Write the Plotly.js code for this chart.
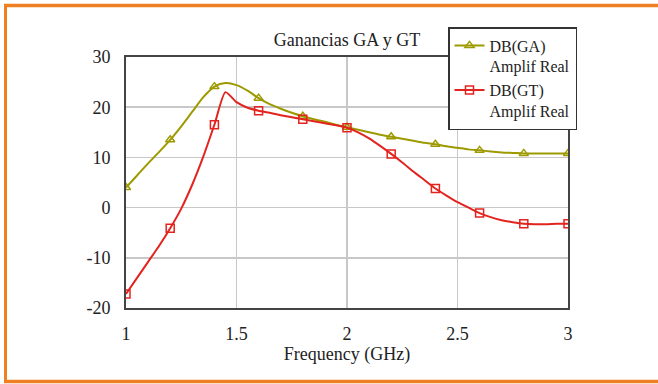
<!DOCTYPE html>
<html>
<head>
<meta charset="utf-8">
<script src="https://cdn.plot.ly/plotly-3.0.1.min.js"></script>
<style>
html,body{margin:0;padding:0;background:#fff;}
#chart{width:658px;height:384px;}
</style>
</head>
<body>
<div id="chart"></div>
<script>
// Frequency grid (GHz) for the smooth curves
var freq = [1.00,1.05,1.10,1.15,1.20,1.25,1.30,1.35,1.40,1.45,1.50,1.55,1.60,1.65,1.70,1.75,1.80,1.85,1.90,1.95,2.00,
            2.05,2.10,2.15,2.20,2.25,2.30,2.35,2.40,2.45,2.50,2.55,2.60,2.65,2.70,2.75,2.80,2.85,2.90,2.95,3.00];
// DB(GA) Amplif Real
var gaDb = [4.0,6.4,8.8,11.1,13.5,16.2,19.1,22.0,24.1,24.8,24.4,23.3,21.8,20.6,19.7,18.9,18.2,17.6,17.1,16.5,16.0,
            15.5,15.0,14.5,14.1,13.7,13.3,12.9,12.6,12.2,11.9,11.6,11.4,11.2,11.0,10.9,10.8,10.8,10.8,10.8,10.8];
// DB(GT) Amplif Real
var gtDb = [-17.2,-14.0,-10.8,-7.6,-4.1,-0.2,4.6,10.2,16.5,23.0,21.0,19.9,19.3,18.9,18.4,18.0,17.6,17.2,16.8,16.4,15.9,
            15.0,13.8,12.3,10.7,9.0,7.2,5.5,3.8,2.4,1.1,0.0,-1.1,-1.9,-2.5,-2.9,-3.2,-3.3,-3.3,-3.2,-3.2];
var xTicks = [1, 1.5, 2, 2.5, 3];
var xTickText = ['1', '1.5', '2', '2.5', '3'];
var yTicks = [-20, -10, 0, 10, 20, 30];
var yTickText = ['-20', '-10', '0', '10', '20', '30'];
var seriesNames = ['DB(GA)<br>Amplif Real', 'DB(GT)<br>Amplif Real'];

// marker points every 0.2 GHz
var mIdx = [];
freq.forEach(function(f, i){ if (i % 4 === 0) mIdx.push(i); });
function pick(arr){ return mIdx.map(function(i){ return arr[i]; }); }

var gaColor = '#9D9A00';
var gtColor = '#E3231E';

var traces = [
  {x: freq, y: gaDb, mode: 'lines', line: {color: gaColor, width: 2, shape: 'spline', smoothing: 0.8},
   showlegend: false, hoverinfo: 'skip'},
  {x: pick(freq), y: pick(gaDb), mode: 'markers',
   marker: {symbol: 'triangle-up-open', size: 8, color: gaColor, line: {width: 1.5, color: gaColor}},
   showlegend: false},
  {x: freq, y: gtDb, mode: 'lines', line: {color: gtColor, width: 2, shape: 'spline', smoothing: 0.6},
   showlegend: false, hoverinfo: 'skip'},
  {x: pick(freq), y: pick(gtDb), mode: 'markers',
   marker: {symbol: 'square-open', size: 8, color: gtColor, line: {width: 1.5, color: gtColor}},
   showlegend: false},
  // legend entries
  {x: [null], y: [null], mode: 'lines+markers', name: seriesNames[0],
   line: {color: gaColor, width: 2},
   marker: {symbol: 'triangle-up-open', size: 8, color: gaColor, line: {width: 1.5, color: gaColor}}},
  {x: [null], y: [null], mode: 'lines+markers', name: seriesNames[1],
   line: {color: gtColor, width: 2},
   marker: {symbol: 'square-open', size: 8, color: gtColor, line: {width: 1.5, color: gtColor}}}
];

var frameColor = '#EE7F23';
var layout = {
  width: 658, height: 384,
  margin: {l: 126, r: 90, t: 57, b: 76},
  paper_bgcolor: '#ffffff', plot_bgcolor: '#ffffff',
  font: {family: '"Liberation Serif", "Times New Roman", serif', size: 18, color: '#222'},
  title: {text: 'Ganancias GA y GT', font: {size: 18, color: '#222'},
          x: 0.5, xref: 'paper', xanchor: 'center', y: 1 - 40/384, yref: 'container', yanchor: 'middle'},
  xaxis: {range: [1, 3], tickvals: xTicks, ticktext: xTickText,
          showgrid: true, gridcolor: '#C8C8C8', gridwidth: 1.5,
          showline: true, linecolor: '#444', linewidth: 2, mirror: true,
          ticks: 'outside', ticklen: 8, tickcolor: 'rgba(0,0,0,0)',
          zeroline: false, tickfont: {size: 18},
          title: {text: 'Frequency (GHz)', font: {size: 18}, standoff: 4}},
  yaxis: {range: [-20, 30], tickvals: yTicks, ticktext: yTickText,
          showgrid: true, gridcolor: '#C8C8C8', gridwidth: 1.5,
          showline: true, linecolor: '#444', linewidth: 2, mirror: true,
          ticks: 'outside', ticklen: 10, tickcolor: 'rgba(0,0,0,0)',
          zeroline: false, tickfont: {size: 18}},
  legend: {x: (448-126)/442, y: (308-27)/251, xanchor: 'left', yanchor: 'top',
           bgcolor: '#ffffff', bordercolor: '#333', borderwidth: 1.5,
           font: {size: 16, color: '#222'}, valign: 'top', tracegroupgap: 0},
  shapes: [
    {type: 'line', xref: 'paper', yref: 'paper', x0: (5.5-126)/442, x1: (5.5-126)/442,
     y0: (308-4)/251, y1: (308-383)/251, line: {color: frameColor, width: 3}},
    {type: 'line', xref: 'paper', yref: 'paper', x0: (4-126)/442, x1: (700-126)/442,
     y0: (308-5.5)/251, y1: (308-5.5)/251, line: {color: frameColor, width: 3.5}},
    {type: 'line', xref: 'paper', yref: 'paper', x0: (4-126)/442, x1: (700-126)/442,
     y0: (308-381.5)/251, y1: (308-381.5)/251, line: {color: frameColor, width: 3.5}}
  ]
};

Plotly.newPlot('chart', traces, layout, {displayModeBar: false, staticPlot: true});
</script>
</body>
</html>
